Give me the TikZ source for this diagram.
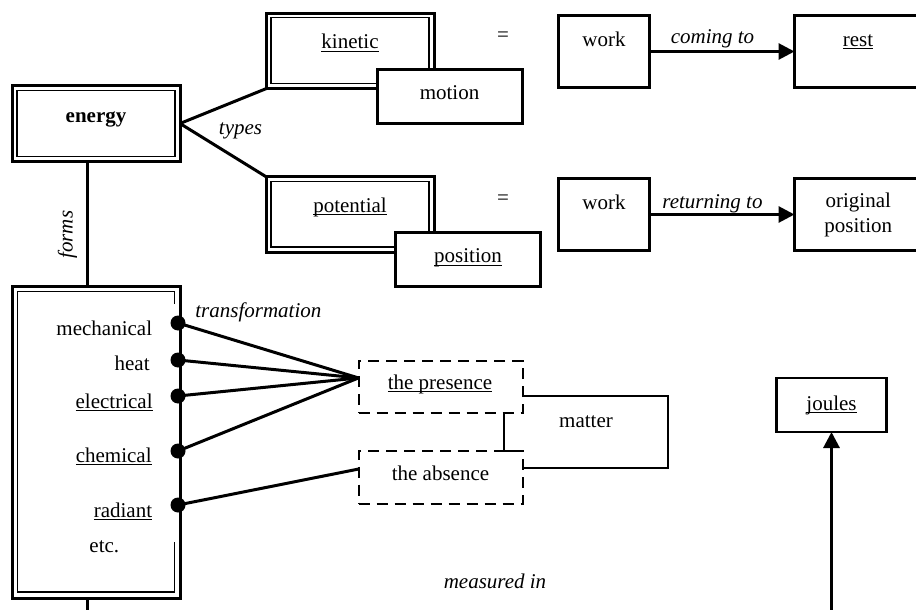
\documentclass[tikz,border=0pt]{standalone}
\usepackage{fontspec}
\setmainfont{Liberation Serif}
\usetikzlibrary{arrows.meta,calc}
\newcommand{\ulx}[1]{\setbox0=\hbox{#1}\rlap{\copy0}\rule[-1.3pt]{\wd0}{0.5pt}}
\begin{document}
\begin{tikzpicture}[x=0.5pt,y=-0.5pt,
  every node/.style={font=\fontsize{10.5pt}{12.6pt}\selectfont},
  txt/.style={inner sep=0pt, anchor=base},
  it/.style={font=\fontsize{10.5pt}{12.6pt}\selectfont\itshape},
  box/.style={draw, line width=1.1pt, inner sep=0pt, outer sep=0pt, anchor=north west, fill=white},
  obox/.style={draw, line width=1.5pt, inner sep=0pt, outer sep=0pt, anchor=north west},
  ibox/.style={draw, line width=0.9pt, inner sep=0pt, outer sep=0pt, anchor=north west},
  dbox/.style={draw, line width=1pt, dash pattern=on 5.5pt off 3.5pt, inner sep=0pt, outer sep=0pt, anchor=north west},
  sz/.style 2 args={minimum width=#1*0.5pt, minimum height=#2*0.5pt},
  con/.style={line width=1.5pt},
  dot/.style={circle, fill=black, inner sep=0pt, minimum size=7.5pt},
  tip/.style={-{Triangle[length=8pt,width=8pt]}}
]
\useasboundingbox (0,0) rectangle (916,610);
\clip (0,0) rectangle (916,610);

% energy
\node[obox, sz={168}{76}] (energy) at (12,85.5) {};
\node[ibox, sz={158}{66}] (energyin) at (17,90.5) {};
\node[txt, font=\fontsize{10.5pt}{12.6pt}\selectfont\bfseries] (energyt) at (96,122.7) {energy};

% kinetic
\node[obox, sz={167.5}{75}] (kinetic) at (266.5,13.5) {};
\node[ibox, sz={158}{66}] (kineticin) at (271,17.5) {};
\node[txt] (kinetict) at (350,49) {\ulx{kinetic}};
\node[box, sz={145}{54}] (motion) at (377.5,69.5) {};
\node[txt] (motiont) at (449.5,100) {motion};

% potential
\node[obox, sz={167.5}{75}] (potential) at (266.5,177) {};
\node[ibox, sz={158}{65.5}] (potentialin) at (271,181.5) {};
\node[txt] (potentialt) at (350,212.5) {\ulx{potential}};
\node[box, sz={145}{54}] (position) at (395.5,232.5) {};
\node[txt] (positiont) at (468,263) {\ulx{position}};

\draw[con] (energy.east) -- (kinetic.south west);
\draw[con] (energy.east) -- (potential.north west);
\node[txt, it] (types) at (240.5,134.5) {types};

% equals
\node[txt] (eq1) at (503,41.5) {=};
\node[txt] (eq2) at (503,205) {=};

% work rows
\node[box, sz={91}{72}] (work1) at (558.5,15.5) {};
\node[txt] (work1t) at (604,46.5) {work};
\node[box, sz={140}{72}] (rest) at (794.5,15.5) {};
\node[txt] (restt) at (858,46.5) {\ulx{rest}};
\draw[con, tip] (work1.east) -- (rest.west);
\node[txt, it] (coming) at (712.5,43.5) {coming to};

\node[box, sz={91}{72}] (work2) at (558.5,178.5) {};
\node[txt] (work2t) at (604,209) {work};
\node[box, sz={140}{72}] (orig) at (794.5,178.5) {};
\node[txt] (origt1) at (858.3,207.5) {original};
\node[txt] (origt2) at (858.3,232.3) {position};
\draw[con, tip] (work2.east) -- (orig.west);
\node[txt, it] (returning) at (712.5,208.5) {returning to};

% forms box
\node[obox, sz={168}{312}] (forms) at (12,286) {};
\draw[line width=0.9pt] (174.5,304) -- (174.5,291.5) -- (17.5,291.5) -- (17.5,592) -- (174.5,592) -- (174.5,542);
\draw[con] ([xshift=-4.25pt]energy.south) -- ([xshift=-4.25pt]forms.north);
\coordinate (fbot) at (87.5,615);
\draw[con] ([xshift=-4.25pt]forms.south) -- (fbot);
\node[txt, it, rotate=90] (formst) at (72.5,234.7) {forms};

% form labels
\node[txt, anchor=base east] (mech) at (152.5,335) {mechanical};
\node[txt, anchor=base east] (heat) at (150,370.7) {heat};
\node[txt, anchor=base east] (elec) at (153,408) {\ulx{electrical}};
\node[txt, anchor=base east] (chem) at (152,462) {\ulx{chemical}};
\node[txt, anchor=base east] (rad) at (152.5,517) {\ulx{radiant}};
\node[txt] (etc) at (104.3,552.5) {etc.};
\node[txt, it, anchor=base west] (transf) at (195,317.5) {transformation};

% presence / absence
\node[dbox, sz={164}{52.5}] (presence) at (358.5,360.5) {};
\node[txt] (presencet) at (440,389) {\ulx{the presence}};
\node[dbox, sz={164}{52.5}] (absence) at (358.5,451) {};
\node[txt] (absencet) at (440.5,480.5) {the absence};

% dots and transformation lines
\node[dot] (d1) at (178,323) {};
\node[dot] (d2) at (178,360) {};
\node[dot] (d3) at (178,396) {};
\node[dot] (d4) at (178,451) {};
\node[dot] (d5) at (178,505) {};
\draw[con] (d1.center) -- ([yshift=4.4pt]presence.west);
\draw[con] (d2.center) -- ([yshift=4.4pt]presence.west);
\draw[con] (d3.center) -- ([yshift=4.4pt]presence.west);
\draw[con] (d4.center) -- ([yshift=4.4pt]presence.west);
\draw[con] (d5.center) -- ([yshift=4.1pt]absence.west);

% matter bracket
\draw[line width=1.1pt] ([xshift=-9.1pt]presence.south east) -- ([xshift=-9.1pt]presence.south east |- absence.north) -- ([xshift=-1.5pt]absence.north east);
\draw[line width=1.1pt] ([yshift=-4.6pt]presence.east) -- ++(72.6pt,0pt) |- ([yshift=4.5pt]absence.east);
\node[txt] (matter) at (586,427.3) {matter};

% joules
\node[box, sz={110}{54}] (joules) at (776.5,378) {};
\node[txt] (joulest) at (831.5,410) {\ulx{joules}};
\coordinate (jbot) at (831.5,615);
\draw[con, tip] (jbot) -- (joules.south);
\node[txt, it] (measured) at (495,588.3) {measured in};
\end{tikzpicture}
\end{document}
